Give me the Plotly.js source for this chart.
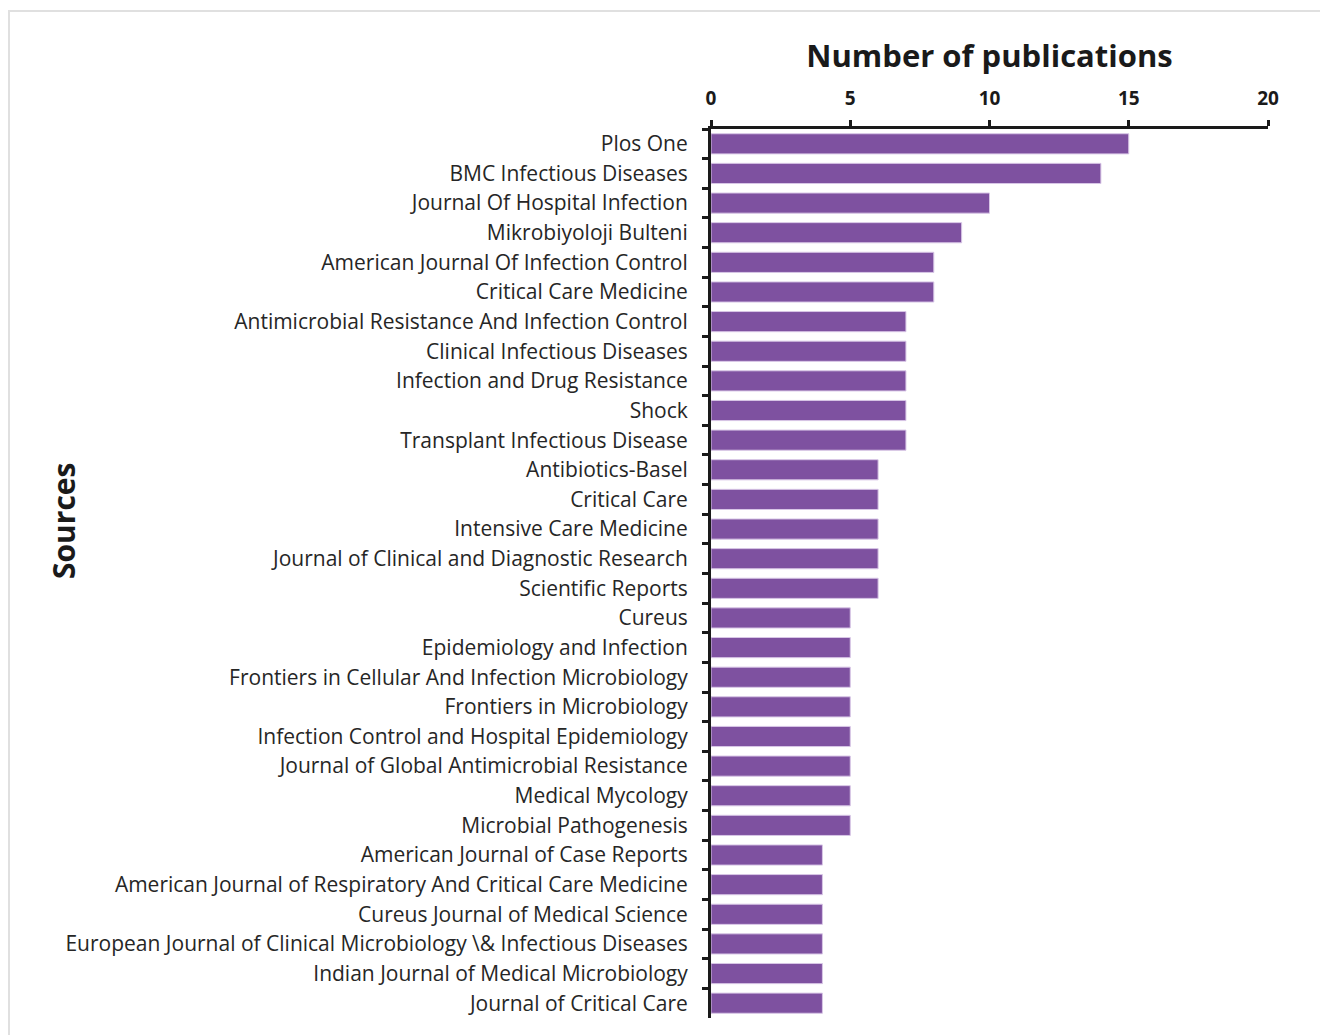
<!DOCTYPE html>
<html>
<head>
<meta charset="utf-8">
<script src="https://cdn.plot.ly/plotly-3.0.1.min.js"></script>
<style>
html,body{margin:0;padding:0;background:#fff;}
#frame{position:absolute;left:8px;top:10px;width:1330px;height:1040px;border:2px solid #e0e0e0;box-sizing:border-box;}
#chart{position:absolute;left:0;top:0;width:1320px;height:1035px;}
</style>
</head>
<body>
<div id="frame"></div>
<div id="chart"></div>
<script>
const sources = [
  "Plos One",
  "BMC Infectious Diseases",
  "Journal Of Hospital Infection",
  "Mikrobiyoloji Bulteni",
  "American Journal Of Infection Control",
  "Critical Care Medicine",
  "Antimicrobial Resistance And Infection Control",
  "Clinical Infectious Diseases",
  "Infection and Drug Resistance",
  "Shock",
  "Transplant Infectious Disease",
  "Antibiotics-Basel",
  "Critical Care",
  "Intensive Care Medicine",
  "Journal of Clinical and Diagnostic Research",
  "Scientific Reports",
  "Cureus",
  "Epidemiology and Infection",
  "Frontiers in Cellular And Infection Microbiology",
  "Frontiers in Microbiology",
  "Infection Control and Hospital Epidemiology",
  "Journal of Global Antimicrobial Resistance",
  "Medical Mycology",
  "Microbial Pathogenesis",
  "American Journal of Case Reports",
  "American Journal of Respiratory And Critical Care Medicine",
  "Cureus Journal of Medical Science",
  "European Journal of Clinical Microbiology \\& Infectious Diseases",
  "Indian Journal of Medical Microbiology",
  "Journal of Critical Care"
];
const publications = [15,14,10,9,8,8,7,7,7,7,7,6,6,6,6,6,5,5,5,5,5,5,5,5,4,4,4,4,4,4];
const xTicks = [0,5,10,15,20];

const trace = {
  type: 'bar',
  orientation: 'h',
  y: sources,
  x: publications,
  marker: {color: '#7e51a0', line: {color: '#d8c6e6', width: 1}},
  hoverinfo: 'x+y'
};

const layout = {
  width: 1320, height: 1035,
  margin: {l: 711, r: 52, t: 129, b: 17},
  paper_bgcolor: 'rgba(0,0,0,0)',
  plot_bgcolor: 'rgba(0,0,0,0)',
  bargap: 0.32,
  showlegend: false,
  font: {family: 'Open Sans, sans-serif', color: '#262626'},
  title: {
    text: '<b>Number of publications</b>',
    font: {size: 31, color: '#1a1a1a', family: 'Open Sans, sans-serif'},
    x: 989.5/1320, xanchor: 'center', xref: 'container',
    y: 1 - 56/1035, yanchor: 'middle', yref: 'container'
  },
  xaxis: {
    side: 'top',
    range: [0, 20],
    tickvals: xTicks,
    ticktext: xTicks.map(v => '<b>' + v + '</b>'),
    ticks: 'outside', ticklen: 6, tickwidth: 3, tickcolor: '#1a1a1a',
    showline: true, linewidth: 3, linecolor: '#1a1a1a',
    showgrid: false, zeroline: false,
    tickfont: {size: 19, color: '#1a1a1a'},
    ticklabelstandoff: 7
  },
  yaxis: {
    type: 'category',
    autorange: 'reversed',
    tickson: 'boundaries',
    ticks: 'outside', ticklen: 6, tickwidth: 3, tickcolor: '#1a1a1a',
    showline: true, linewidth: 3, linecolor: '#1a1a1a',
    showgrid: false, zeroline: false,
    tickfont: {size: 21, color: '#262626'},
    ticklabelstandoff: 16
  },
  annotations: [{
    text: '<b>Sources</b>',
    textangle: -90,
    xref: 'paper', yref: 'paper',
    x: (63 - 711) / (1268 - 711), y: (1018 - 521) / (1018 - 129),
    xanchor: 'center', yanchor: 'middle',
    showarrow: false,
    font: {size: 30, color: '#1a1a1a', family: 'Open Sans, sans-serif'}
  }]
};

Plotly.newPlot('chart', [trace], layout, {displayModeBar: false, staticPlot: true});
</script>
</body>
</html>
